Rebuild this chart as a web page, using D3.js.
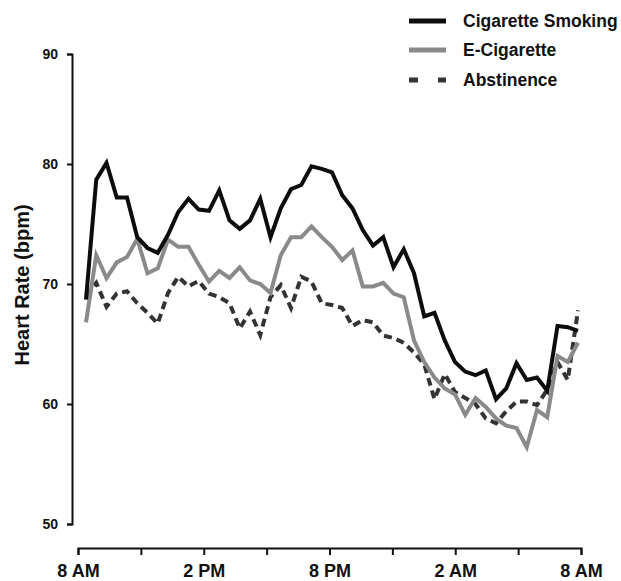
<!DOCTYPE html>
<html>
<head>
<meta charset="utf-8">
<script src="https://cdn.jsdelivr.net/npm/d3@7"></script>
<style>
body { margin: 0; background: #fff; }
text { font-family: "Liberation Sans", Arial, sans-serif; font-weight: bold; fill: #111; }
</style>
</head>
<body>
<svg id="s" width="621" height="581"></svg>
<script>
// half-hour readings, 8 AM -> 8 AM next day
var smoking = [68.7, 78.7, 80.1, 77.2, 77.2, 73.9, 73.0, 72.6, 74.1, 76.0,
               77.1, 76.2, 76.1, 77.8, 75.3, 74.6, 75.3, 77.1, 73.9, 76.3,
               77.9, 78.25, 79.8, 79.6, 79.3, 77.4, 76.3, 74.5, 73.2, 73.9,
               71.4, 72.9, 70.9, 67.3, 67.6, 65.3, 63.5, 62.7, 62.4, 62.8,
               60.4, 61.3, 63.4, 62.0, 62.2, 61.1, 66.5, 66.4, 66.1];
var ecig = [66.8, 72.4, 70.5, 71.8, 72.25, 73.75, 70.9, 71.3, 73.7, 73.1,
            73.1, 71.6, 70.2, 71.1, 70.5, 71.4, 70.3, 70.0, 69.25, 72.4,
            73.9, 73.9, 74.8, 73.9, 73.1, 72.0, 72.8, 69.8, 69.8, 70.1,
            69.2, 68.9, 65.3, 63.5, 62.2, 61.3, 60.8, 59.1, 60.5, 59.75,
            58.8, 58.2, 58.0, 56.4, 59.5, 58.9, 64.0, 63.5, 65.1];
var abstinence = [69.0, 70.1, 68.1, 69.2, 69.4, 68.4, 67.6, 66.7, 69.25, 70.6,
                  69.8, 70.25, 69.2, 68.9, 68.4, 66.3, 67.7, 65.75, 68.9, 69.9,
                  68.0, 70.6, 70.2, 68.4, 68.25, 68.0, 66.5, 67.0, 66.8, 65.7,
                  65.5, 65.1, 64.3, 63.3, 60.4, 62.5, 61.0, 60.5, 60.0, 58.8,
                  58.4, 59.4, 60.2, 60.2, 59.9, 61.2, 63.5, 62.0, 67.8];

var hourTicks = [0, 3, 6, 9, 12, 15, 18, 21, 24];
var hourLabels = {0: "8 AM", 6: "2 PM", 12: "8 PM", 18: "2 AM", 24: "8 AM"};
var yTicks = [50, 60, 70, 80, 90];
var names = ["Cigarette Smoking", "E-Cigarette", "Abstinence"];

var svg = d3.select("#s");

var xAxisScale = d3.scaleLinear().domain([0, 24]).range([78, 581]);
var xData = d3.scaleLinear().domain([0, smoking.length - 1]).range([86, 578]);
var y = d3.scaleLinear().domain([50, 60, 70, 80, 90]).range([524, 404, 284, 164, 54]);

var styles = [
    {color: "#0d0d0d", dash: null},
    {color: "#8a8a8a", dash: null},
    {color: "#333333", dash: "8,5"}
];
var allSeries = [smoking, ecig, abstinence];

// y axis
var ya = svg.append("g").attr("transform", "translate(72,0)")
    .call(d3.axisLeft(y).tickValues(yTicks).tickSize(5).tickPadding(9));
ya.selectAll("text").style("font-size", "14px");

// x axis
var xa = svg.append("g").attr("transform", "translate(0,548)")
    .call(d3.axisBottom(xAxisScale).tickValues(hourTicks).tickSize(7).tickPadding(9)
        .tickFormat(function(d) { return hourLabels[d] || ""; }));
xa.selectAll("text").style("font-size", "18px");

svg.selectAll(".domain, .tick line").attr("stroke", "#111").attr("stroke-width", 2);

svg.append("text")
    .attr("transform", "translate(29,285) rotate(-90)")
    .attr("text-anchor", "middle")
    .style("font-size", "20px")
    .text("Heart Rate (bpm)");

var line = d3.line()
    .x(function(d, i) { return xData(i); })
    .y(function(d) { return y(d); });

// abstinence first, then e-cig, smoking on top
[2, 1, 0].forEach(function(k) {
    svg.append("path")
        .datum(allSeries[k])
        .attr("d", line)
        .attr("fill", "none")
        .attr("stroke", styles[k].color)
        .attr("stroke-width", 4)
        .attr("stroke-dasharray", styles[k].dash);
});

// legend
var legY = [21, 50, 80];
var leg = svg.selectAll(".leg").data(names).enter().append("g").attr("class", "leg");
leg.append("line")
    .attr("x1", 409).attr("x2", 446)
    .attr("y1", function(d, i) { return legY[i]; })
    .attr("y2", function(d, i) { return legY[i]; })
    .attr("stroke", function(d, i) { return styles[i].color; })
    .attr("stroke-width", 5)
    .attr("stroke-dasharray", function(d, i) { return i == 2 ? "9,20" : null; });
leg.append("text")
    .attr("x", 463)
    .attr("y", function(d, i) { return legY[i]; })
    .attr("dy", "0.36em")
    .style("font-size", "17.5px")
    .text(function(d) { return d; });
</script>
</body>
</html>
